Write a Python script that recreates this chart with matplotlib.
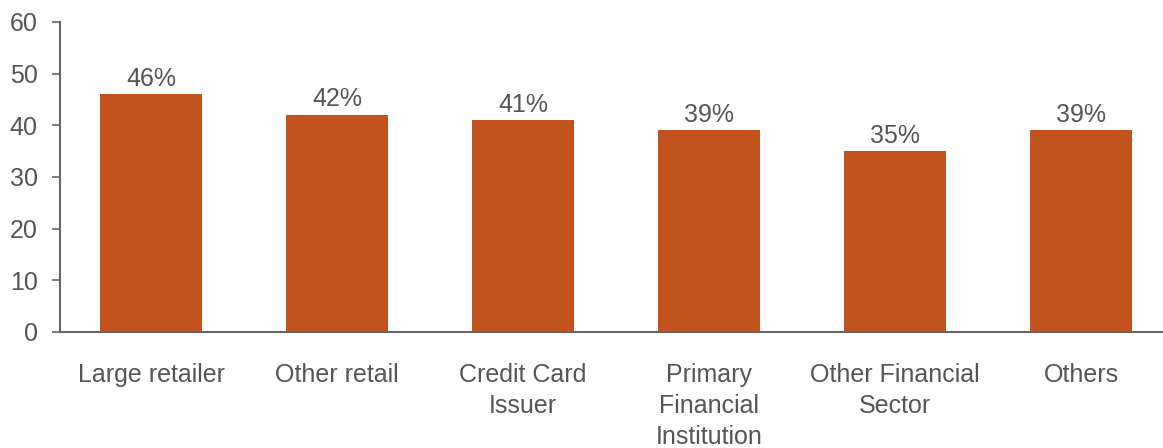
import matplotlib.pyplot as plt

plt.rcParams['font.family'] = ['Liberation Sans', 'DejaVu Sans']

# Share of respondents by channel
categories = ['Large retailer', 'Other retail', 'Credit Card\nIssuer',
              'Primary\nFinancial\nInstitution', 'Other Financial\nSector', 'Others']
values = [46, 42, 41, 39, 35, 39]

bar_color = '#C1531F'
text_color = '#555555'
axis_color = '#666666'

fig = plt.figure(figsize=(11.63, 4.48), dpi=100)
ax = fig.add_axes([0.0516, 0.259, 0.9484, 0.692])

x = range(len(categories))
bars = ax.bar(x, values, width=0.55, color=bar_color)

for b, v in zip(bars, values):
    ax.text(b.get_x() + b.get_width() / 2, v + 0.7, f'{v}%',
            ha='center', va='bottom', fontsize=18, color=text_color)

ax.set_xlim(-0.49, 5.44)
ax.set_ylim(0, 60)
ax.set_yticks(range(0, 61, 10))
ax.set_xticks(list(x))
ax.set_xticklabels(categories, fontsize=18, color=text_color, linespacing=1.38)
ax.tick_params(axis='x', length=0, pad=22)
ax.tick_params(axis='y', length=6, width=1.2, color=axis_color,
               labelsize=18, labelcolor=text_color, pad=10)

for side in ('top', 'right'):
    ax.spines[side].set_visible(False)
for side in ('left', 'bottom'):
    ax.spines[side].set_color(axis_color)
    ax.spines[side].set_linewidth(1.5)

fig.savefig('out.png', dpi=100)
